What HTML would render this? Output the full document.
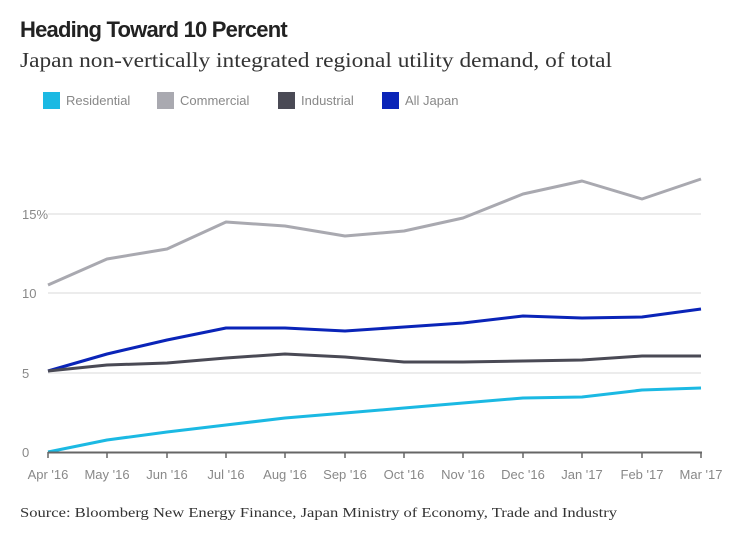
<!DOCTYPE html><html><head><style>
body{margin:0;width:740px;height:536px;background:#fff;font-family:"Liberation Sans",sans-serif;overflow:hidden}
</style></head><body>
<svg width="740" height="536" xmlns="http://www.w3.org/2000/svg">
<text x="20" y="37" font-family="Liberation Sans" font-weight="bold" font-size="22" fill="#222" letter-spacing="-0.8">Heading Toward 10 Percent</text>
<text x="20" y="67" font-family="Liberation Serif" font-size="21" fill="#333" textLength="592" lengthAdjust="spacingAndGlyphs">Japan non-vertically integrated regional utility demand, of total</text>
<g font-size="13" fill="#888">
<rect x="43" y="92" width="17" height="17" fill="#1bb9e3"/><text x="66" y="105">Residential</text>
<rect x="157" y="92" width="17" height="17" fill="#a9a9b0"/><text x="180" y="105">Commercial</text>
<rect x="278" y="92" width="17" height="17" fill="#4a4a55"/><text x="301" y="105">Industrial</text>
<rect x="382" y="92" width="17" height="17" fill="#0a24b8"/><text x="405" y="105">All Japan</text>
</g>
<g stroke="#e6e6e6" stroke-width="1.5"><line x1="48" y1="214" x2="701" y2="214"/><line x1="48" y1="293" x2="701" y2="293"/><line x1="48" y1="373" x2="701" y2="373"/></g>
<g font-size="13" fill="#888"><text x="22" y="219">15%</text><text x="22" y="298">10</text><text x="22" y="378">5</text><text x="22" y="457">0</text></g>
<g fill="none" stroke-width="3" stroke-linejoin="round">
<polyline stroke="#a9a9b0" points="48,285 107,259 167,249 226,222 285,226 345,236 404,231 463,218 523,194 582,181 642,199 701,179"/>
<polyline stroke="#0a24b8" points="48,371 107,354 167,340 226,328 285,328 345,331 404,327 463,323 523,316 582,318 642,317 701,309"/>
<polyline stroke="#4a4a55" points="48,371 107,365 167,363 226,358 285,354 345,357 404,362 463,362 523,361 582,360 642,356 701,356"/>
<polyline stroke="#1bb9e3" points="48,452 107,440 167,432 226,425 285,418 345,413 404,408 463,403 523,398 582,397 642,390 701,388"/>
</g>
<line x1="48" y1="452.5" x2="702" y2="452.5" stroke="#666" stroke-width="2"/>
<g stroke="#666" stroke-width="1.5">
<line x1="48" y1="452" x2="48" y2="458"/><line x1="107" y1="452" x2="107" y2="458"/><line x1="167" y1="452" x2="167" y2="458"/><line x1="226" y1="452" x2="226" y2="458"/><line x1="285" y1="452" x2="285" y2="458"/><line x1="345" y1="452" x2="345" y2="458"/><line x1="404" y1="452" x2="404" y2="458"/><line x1="463" y1="452" x2="463" y2="458"/><line x1="523" y1="452" x2="523" y2="458"/><line x1="582" y1="452" x2="582" y2="458"/><line x1="642" y1="452" x2="642" y2="458"/><line x1="701" y1="452" x2="701" y2="458"/>
</g>
<g font-size="13" fill="#888" text-anchor="middle">
<text x="48" y="479">Apr '16</text><text x="107" y="479">May '16</text><text x="167" y="479">Jun '16</text><text x="226" y="479">Jul '16</text><text x="285" y="479">Aug '16</text><text x="345" y="479">Sep '16</text><text x="404" y="479">Oct '16</text><text x="463" y="479">Nov '16</text><text x="523" y="479">Dec '16</text><text x="582" y="479">Jan '17</text><text x="642" y="479">Feb '17</text><text x="701" y="479">Mar '17</text>
</g>
<text x="20" y="517" font-family="Liberation Serif" font-size="14" fill="#333" textLength="597" lengthAdjust="spacingAndGlyphs">Source: Bloomberg New Energy Finance, Japan Ministry of Economy, Trade and Industry</text>
</svg>
</body></html>
